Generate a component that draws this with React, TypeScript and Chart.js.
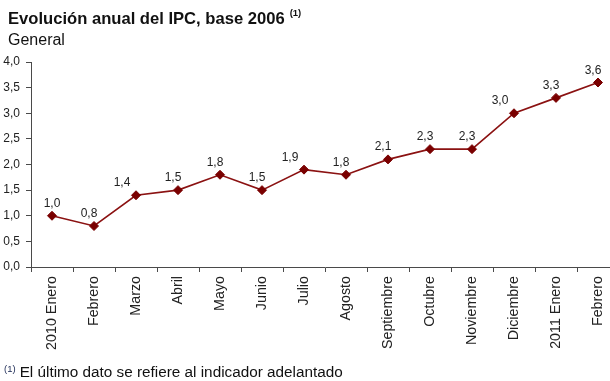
import React, { useEffect, useRef } from "react";
import { Chart, registerables } from "chart.js";

Chart.register(...registerables);

const categories = [
  "2010 Enero",
  "Febrero",
  "Marzo",
  "Abril",
  "Mayo",
  "Junio",
  "Julio",
  "Agosto",
  "Septiembre",
  "Octubre",
  "Noviembre",
  "Diciembre",
  "2011 Enero",
  "Febrero",
];
const values = [1.0, 0.8, 1.4, 1.5, 1.8, 1.5, 1.9, 1.8, 2.1, 2.3, 2.3, 3.0, 3.3, 3.6];
const yMin = 0;
const yMax = 4;
const yStep = 0.5;

const titleText = "Evolución anual del IPC, base 2006";
const subtitleText = "General";
const noteMark = "(1)";
const footnoteText = "El último dato se refiere al indicador adelantado";

const FAMILY = '"Liberation Sans", Arial, Helvetica, sans-serif';
const fmt = (v: number) => v.toFixed(1).replace(".", ",");

const pointLabels = {
  id: "pointLabels",
  afterDatasetsDraw(chart: any) {
    const ctx = chart.ctx;
    const meta = chart.getDatasetMeta(0);
    const data = chart.data.datasets[0].data as number[];
    ctx.save();
    ctx.font = `12px ${FAMILY}`;
    ctx.fillStyle = "#222";
    ctx.textAlign = "center";
    ctx.textBaseline = "alphabetic";
    meta.data.forEach((pt: any, i: number) => {
      const rise = i > 0 ? data[i] - data[i - 1] : 0;
      const dx = i === 0 ? 0 : rise > 0.35 ? -14 : -5;
      ctx.fillText(fmt(data[i]), pt.x + dx, pt.y - 9);
    });
    ctx.restore();
  },
};

export default function App() {
  const ref = useRef<HTMLCanvasElement | null>(null);

  useEffect(() => {
    if (!ref.current) return;
    const axisColor = "#4a4a4a";
    const chart = new Chart(ref.current, {
      type: "line",
      data: {
        labels: categories,
        datasets: [
          {
            data: values,
            borderColor: "#8b1212",
            borderWidth: 1.6,
            pointStyle: "rectRot",
            pointRadius: 4.5,
            pointBackgroundColor: "#7a0000",
            pointBorderColor: "#7a0000",
            pointBorderWidth: 1,
            tension: 0,
          },
        ],
      },
      options: {
        responsive: false,
        animation: false,
        layout: { padding: { top: 62, right: 21, left: 0, bottom: 0 } },
        plugins: {
          legend: { display: false },
          tooltip: { enabled: false },
          title: { display: false },
        },
        scales: {
          x: {
            offset: true,
            grid: {
              offset: true,
              drawOnChartArea: false,
              drawTicks: true,
              tickLength: 5,
              color: axisColor,
            },
            border: { color: axisColor, width: 1 },
            ticks: {
              minRotation: 90,
              maxRotation: 90,
              autoSkip: false,
              padding: 4,
              color: "#222",
              font: { size: 14.3, family: FAMILY },
            },
            afterFit: (s: any) => {
              s.height = 114;
            },
          },
          y: {
            min: yMin,
            max: yMax,
            ticks: {
              stepSize: yStep,
              padding: 6,
              color: "#222",
              font: { size: 12, family: FAMILY },
              callback: (v: any) => fmt(Number(v)),
            },
            grid: {
              drawOnChartArea: false,
              drawTicks: true,
              tickLength: 5,
              color: axisColor,
            },
            border: { color: axisColor, width: 1 },
            afterFit: (s: any) => {
              s.width = 31;
            },
          },
        },
      },
      plugins: [pointLabels],
    });
    return () => chart.destroy();
  }, []);

  const lh = 1;
  return (
    <div
      style={{
        position: "fixed",
        left: 0,
        top: 0,
        width: 610,
        height: 381,
        overflow: "hidden",
        background: "#fff",
        fontFamily: FAMILY,
        color: "#111",
      }}
    >
      <canvas ref={ref} width={640} height={381} style={{ display: "block", position: "absolute", left: 0, top: 0 }} />
      <div
        style={{
          position: "absolute",
          left: 8,
          top: 11,
          fontSize: 16.6,
          fontWeight: "bold",
          lineHeight: lh,
          whiteSpace: "nowrap",
        }}
      >
        {titleText}
        <span style={{ fontSize: 9.5, position: "relative", top: -8, marginLeft: 5 }}>{noteMark}</span>
      </div>
      <div
        style={{
          position: "absolute",
          left: 8,
          top: 32,
          fontSize: 16,
          lineHeight: lh,
          whiteSpace: "nowrap",
        }}
      >
        {subtitleText}
      </div>
      <div
        style={{
          position: "absolute",
          left: 4,
          top: 363.5,
          fontSize: 15.3,
          lineHeight: lh,
          whiteSpace: "nowrap",
        }}
      >
        <span style={{ fontSize: 9.5, position: "relative", top: -5, color: "#1c2a55", marginRight: 4 }}>{noteMark}</span>
        {footnoteText}
      </div>
    </div>
  );
}
